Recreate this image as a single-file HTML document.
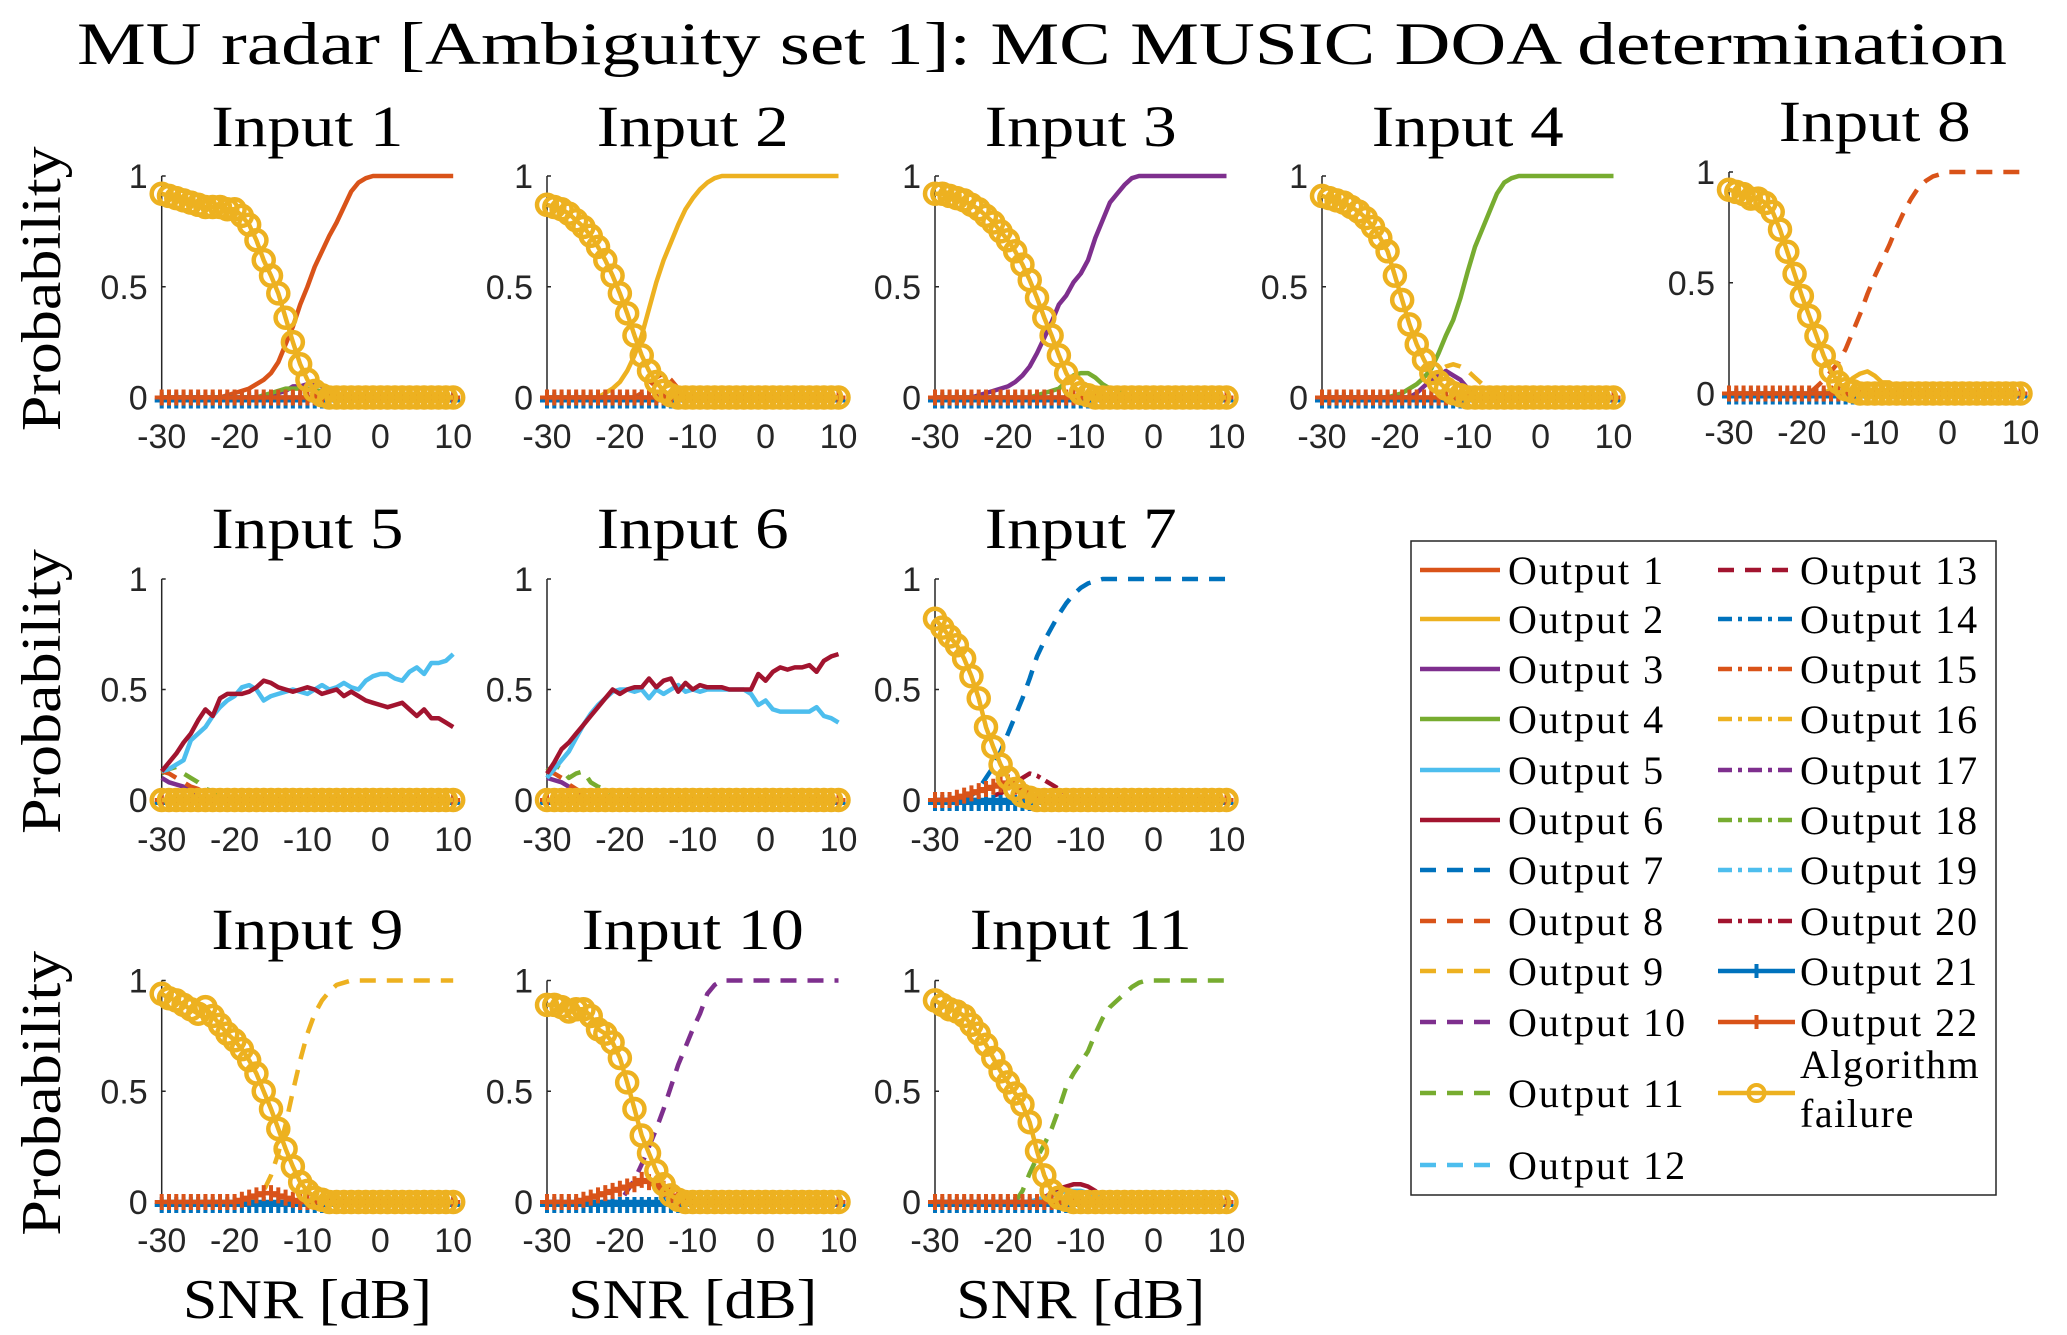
<!DOCTYPE html>
<html><head><meta charset="utf-8"><style>
html,body{margin:0;padding:0;background:#fff;}
svg{display:block;}
.tick{font-family:"Liberation Sans",sans-serif;font-size:34px;fill:#262626;}
.serif{font-family:"Liberation Serif",serif;fill:#000;}
</style></head><body>
<svg id="fig" width="2067" height="1335" viewBox="0 0 2067 1335" xmlns="http://www.w3.org/2000/svg">
<rect width="2067" height="1335" fill="#fff"/>
<text class="serif" x="1042" y="64" font-size="60" text-anchor="middle" textLength="1930" lengthAdjust="spacingAndGlyphs">MU radar [Ambiguity set 1]: MC MUSIC DOA determination</text>
<g id="panels"></g>
<g id="legend"></g>
</svg>
<script>
const snr = [-30,-29,-28,-27,-26,-25,-24,-23,-22,-21,-20,-19,-18,-17,-16,-15,-14,-13,-12,-11,-10,-9,-8,-7,-6,-5,-4,-3,-2,-1,0,1,2,3,4,5,6,7,8,9,10];
const yTicks = [0,0.5,1];
const yTickLabels = ["0","0.5","1"];
const xTicks = [-30,-20,-10,0,10];
const xTickLabels = ["-30","-20","-10","0","10"];
const zeros = [0,0,0,0,0,0,0,0,0,0, 0,0,0,0,0,0,0,0,0,0, 0,0,0,0,0,0,0,0,0,0, 0,0,0,0,0,0,0,0,0,0, 0];

// Input 1
const in1_fail = [.92,.91,.90,.89,.88,.87,.86,.86,.86,.85, .85,.82,.78,.71,.62,.55,.47,.36,.25,.15, .08,.03,.01,0,0,0,0,0,0,0, 0,0,0,0,0,0,0,0,0,0, 0];
const in1_out1 = [0,0,0,0,0,0,0,0,0,.01, .02,.03,.04,.06,.08,.11,.16,.24,.32,.42, .50,.59,.66,.73,.79,.86,.93,.97,.99,1, 1,1,1,1,1,1,1,1,1,1, 1];
const in1_out3 = [0,0,0,0,0,0,0,0,0,0, 0,0,0,0,0,.01,.02,.03,.05,.05, .06,.07,.05,.03,.01,0,0,0,0,0, 0,0,0,0,0,0,0,0,0,0, 0];
const in1_out4 = [0,0,0,0,0,0,0,0,0,0, 0,0,0,0,.01,.02,.03,.04,.04,.04, .04,.03,.03,.02,.01,0,0,0,0,0, 0,0,0,0,0,0,0,0,0,0, 0];
// Input 2
const in2_fail = [.87,.86,.85,.83,.80,.77,.73,.68,.62,.55, .47,.38,.28,.19,.12,.07,.03,.01,0,0, 0,0,0,0,0,0,0,0,0,0, 0,0,0,0,0,0,0,0,0,0, 0];
const in2_out2 = [0,0,0,0,0,0,0,0,.02,.04, .07,.12,.19,.28,.40,.52,.62,.70,.78,.85, .90,.94,.97,.99,1,1,1,1,1,1, 1,1,1,1,1,1,1,1,1,1, 1];
const in2_out8 = [0,0,0,0,0,0,0,0,0,0, 0,0,0,.02,.05,.09,.11,.08,.04,.01, 0,0,0,0,0,0,0,0,0,0, 0,0,0,0,0,0,0,0,0,0, 0];
// Input 3
const in3_fail = [.92,.92,.91,.90,.89,.87,.85,.82,.79,.75, .71,.66,.60,.53,.45,.36,.28,.19,.11,.05, .02,.01,0,0,0,0,0,0,0,0, 0,0,0,0,0,0,0,0,0,0, 0];
const in3_out3 = [0,0,0,0,0,0,.01,.02,.03,.04, .05,.07,.10,.14,.20,.27,.34,.42,.46,.52, .56,.62,.72,.80,.88,.92,.96,.99,1,1, 1,1,1,1,1,1,1,1,1,1, 1];
const in3_out4 = [0,0,0,0,0,0,0,0,0,0, 0,0,0,0,.01,.02,.03,.04,.07,.10, .11,.11,.09,.06,.04,.04,.02,0,0,0, 0,0,0,0,0,0,0,0,0,0, 0];
// Input 4
const in4_fail = [.91,.90,.89,.88,.86,.84,.81,.77,.72,.66, .55,.44,.33,.24,.17,.11,.07,.04,.02,.01, 0,0,0,0,0,0,0,0,0,0, 0,0,0,0,0,0,0,0,0,0, 0];
const in4_out4 = [0,0,0,0,0,0,0,0,0,0, .01,.02,.04,.06,.09,.13,.20,.28,.35,.45, .57,.68,.76,.84,.92,.97,.99,1,1,1, 1,1,1,1,1,1,1,1,1,1, 1];
const in4_out9 = [0,0,0,0,0,0,0,0,0,0, 0,0,0,.02,.05,.08,.12,.14,.15,.14, .12,.09,.06,.04,.02,0,0,0,0,0, 0,0,0,0,0,0,0,0,0,0, 0];
const in4_out3 = [0,0,0,0,0,0,0,0,0,0, 0,0,0,.02,.05,.08,.10,.12,.10,.08, .04,.02,0,0,0,0,0,0,0,0, 0,0,0,0,0,0,0,0,0,0, 0];
// Input 8
const in8_fail = [.92,.91,.90,.88,.88,.86,.82,.74,.64,.54, .44,.35,.26,.17,.10,.05,.02,.01,0,0, 0,0,0,0,0,0,0,0,0,0, 0,0,0,0,0,0,0,0,0,0, 0];
const in8_out8 = [0,0,0,0,0,0,0,0,0,0, 0,0,.03,.06,.10,.14,.20,.28,.36,.45, .53,.60,.67,.75,.82,.88,.93,.96,.98,.99, 1,1,1,1,1,1,1,1,1,1, 1];
const in8_out2 = [0,0,0,0,0,0,0,0,0,0, 0,0,0,0,.02,.03,.04,.07,.09,.10, .08,.05,.05,.03,.01,0,0,0,0,0, 0,0,0,0,0,0,0,0,0,0, 0];
// Input 5
const in5_out5 = [.13,.14,.16,.18,.27,.30,.33,.38,.42,.45, .47,.51,.52,.50,.45,.47,.48,.49,.50,.49, .48,.50,.52,.50,.51,.53,.51,.50,.54,.56, .57,.57,.55,.54,.58,.60,.57,.62,.62,.63, .66];
const in5_out6 = [.13,.17,.21,.26,.30,.36,.41,.38,.46,.48, .48,.48,.49,.51,.54,.53,.51,.50,.49,.50, .51,.50,.48,.49,.50,.47,.49,.47,.45,.44, .43,.42,.43,.44,.41,.38,.41,.37,.37,.35, .33];
const in5_out11 = [.12,.14,.15,.12,.10,.08,.05,.04,.02,.01, 0,0,0,0,0,0,0,0,0,0, 0,0,0,0,0,0,0,0,0,0, 0,0,0,0,0,0,0,0,0,0, 0];
const in5_out3 = [.10,.08,.07,.06,.04,.02,.01,0,0,0, 0,0,0,0,0,0,0,0,0,0, 0,0,0,0,0,0,0,0,0,0, 0,0,0,0,0,0,0,0,0,0, 0];
const in5_out8 = [.13,.12,.10,.08,.06,.05,.03,.01,0,0, 0,0,0,0,0,0,0,0,0,0, 0,0,0,0,0,0,0,0,0,0, 0,0,0,0,0,0,0,0,0,0, 0];
// Input 6
const in6_out5 = [.10,.14,.18,.22,.28,.34,.39,.43,.46,.49, .50,.50,.49,.50,.46,.50,.48,.50,.52,.49, .50,.49,.50,.50,.50,.50,.50,.50,.48,.43, .45,.41,.40,.40,.40,.40,.40,.42,.38,.37, .35];
const in6_out6 = [.12,.17,.23,.26,.30,.34,.38,.42,.46,.50, .48,.50,.51,.51,.55,.51,.54,.55,.49,.53, .50,.52,.51,.51,.51,.50,.50,.50,.50,.57, .54,.58,.60,.59,.60,.60,.61,.58,.63,.65, .66];
const in6_out11 = [.13,.16,.14,.10,.12,.13,.08,.06,.05,.02, 0,0,0,0,0,0,0,0,0,0, 0,0,0,0,0,0,0,0,0,0, 0,0,0,0,0,0,0,0,0,0, 0];
const in6_out8 = [.13,.12,.10,.07,.05,.03,.01,0,0,0, 0,0,0,0,0,0,0,0,0,0, 0,0,0,0,0,0,0,0,0,0, 0,0,0,0,0,0,0,0,0,0, 0];
const in6_out3 = [.10,.09,.08,.06,.04,.02,0,0,0,0, 0,0,0,0,0,0,0,0,0,0, 0,0,0,0,0,0,0,0,0,0, 0,0,0,0,0,0,0,0,0,0, 0];
// Input 7
const in7_fail = [.82,.78,.74,.70,.64,.56,.46,.33,.24,.16, .10,.05,.02,.01,0,0,0,0,0,0, 0,0,0,0,0,0,0,0,0,0, 0,0,0,0,0,0,0,0,0,0, 0];
const in7_out7 = [0,0,0,0,0,.02,.05,.10,.15,.22, .30,.38,.46,.55,.65,.72,.78,.84,.89,.93, .96,.98,.99,1,1,1,1,1,1,1, 1,1,1,1,1,1,1,1,1,1, 1];
const in7_out20 = [0,0,0,0,0,0,0,0,.02,.03, .05,.08,.10,.12,.11,.09,.07,.05,.03,.02, .01,0,0,0,0,0,0,0,0,0, 0,0,0,0,0,0,0,0,0,0, 0];
const in7_out22 = [0,0,0,.01,.02,.03,.04,.05,.06,.07, .08,.06,.04,.02,0,0,0,0,0,0, 0,0,0,0,0,0,0,0,0,0, 0,0,0,0,0,0,0,0,0,0, 0];
// Input 9
const in9_fail = [.94,.92,.91,.89,.87,.85,.88,.84,.80,.76, .73,.69,.64,.58,.50,.42,.33,.24,.16,.09, .05,.02,.01,0,0,0,0,0,0,0, 0,0,0,0,0,0,0,0,0,0, 0];
const in9_out9 = [0,0,0,0,0,0,0,0,0,0, 0,0,0,.02,.05,.12,.22,.35,.50,.64, .76,.85,.91,.95,.98,.99,1,1,1,1, 1,1,1,1,1,1,1,1,1,1, 1];
const in9_out22 = [0,0,0,0,0,0,0,0,0,0, 0,.01,.02,.03,.04,.04,.03,.02,.01,0, 0,0,0,0,0,0,0,0,0,0, 0,0,0,0,0,0,0,0,0,0, 0];
// Input 10
const in10_fail = [.89,.89,.88,.86,.87,.87,.84,.78,.76,.72, .65,.54,.42,.30,.22,.14,.08,.03,.01,0, 0,0,0,0,0,0,0,0,0,0, 0,0,0,0,0,0,0,0,0,0, 0];
const in10_out10 = [0,0,0,0,0,0,0,0,0,0, 0,.05,.10,.17,.25,.33,.42,.52,.62,.70, .78,.85,.94,.98,1,1,1,1,1,1, 1,1,1,1,1,1,1,1,1,1, 1];
const in10_out22 = [0,0,0,0,0,.01,.02,.03,.04,.05, .06,.07,.08,.10,.09,.08,.06,.03,.01,0, 0,0,0,0,0,0,0,0,0,0, 0,0,0,0,0,0,0,0,0,0, 0];
// Input 11
const in11_fail = [.91,.89,.87,.86,.84,.80,.76,.71,.65,.59, .54,.49,.44,.36,.23,.12,.05,.02,.01,0, 0,0,0,0,0,0,0,0,0,0, 0,0,0,0,0,0,0,0,0,0, 0];
const in11_out11 = [0,0,0,0,0,0,0,0,0,0, 0,0,.05,.13,.20,.26,.33,.42,.52,.58, .63,.68,.76,.83,.88,.91,.94,.97,.99,1, 1,1,1,1,1,1,1,1,1,1, 1];
const in11_out6 = [0,0,0,0,0,0,0,0,0,0, 0,0,0,0,.01,.02,.04,.06,.07,.08, .08,.07,.05,.02,0,0,0,0,0,0, 0,0,0,0,0,0,0,0,0,0, 0];
const in11_out5 = [0,0,0,0,0,0,0,0,0,0, 0,0,0,0,.01,.02,.03,.04,.05,.05, .05,.04,.03,.01,0,0,0,0,0,0, 0,0,0,0,0,0,0,0,0,0, 0];

const C = {o1:"#D95319",o2:"#EDB120",o3:"#7E2F8E",o4:"#77AC30",o5:"#4DBEEE",o6:"#A2142F",o7:"#0072BD"};
const DASH = "16,11", DASHDOT = "14,6,4,6";
const NS = "http://www.w3.org/2000/svg";
function mk(tag, attrs, parent){
  const e = document.createElementNS(NS, tag);
  for (const k in attrs) e.setAttribute(k, attrs[k]);
  parent.appendChild(e);
  return e;
}

const W = 291.5;
const panels = [
  {name:"input-1", title:"Input 1", left:161.7, y1:176, y0:397.5, tb:146, xl:448, ylab:true, snrLab:false,
   fail:in1_fail, series:[{d:in1_out1,c:C.o1},{d:in1_out3,c:C.o3},{d:in1_out4,c:C.o4}]},
  {name:"input-2", title:"Input 2", left:547, y1:176, y0:397.5, tb:146, xl:448,
   fail:in2_fail, series:[{d:in2_out2,c:C.o2},{d:in2_out8,c:C.o1,dash:DASH}]},
  {name:"input-3", title:"Input 3", left:935, y1:176, y0:397.5, tb:146, xl:448,
   fail:in3_fail, series:[{d:in3_out3,c:C.o3},{d:in3_out4,c:C.o4}]},
  {name:"input-4", title:"Input 4", left:1322, y1:176, y0:397.5, tb:146, xl:448,
   fail:in4_fail, series:[{d:in4_out4,c:C.o4},{d:in4_out9,c:C.o2,dash:DASH},{d:in4_out3,c:C.o3}]},
  {name:"input-8", title:"Input 8", left:1729, y1:172, y0:393.5, tb:141, xl:444,
   fail:in8_fail, series:[{d:in8_out8,c:C.o1,dash:DASH},{d:in8_out2,c:C.o2}]},
  {name:"input-5", title:"Input 5", left:161.7, y1:579, y0:800, tb:548, xl:851, ylab:true,
   fail:zeros, series:[{d:in5_out11,c:C.o4,dash:DASH},{d:in5_out3,c:C.o3},{d:in5_out8,c:C.o1,dash:DASH},{d:in5_out5,c:C.o5},{d:in5_out6,c:C.o6}]},
  {name:"input-6", title:"Input 6", left:547, y1:579, y0:800, tb:548, xl:851,
   fail:zeros, series:[{d:in6_out11,c:C.o4,dash:DASH},{d:in6_out3,c:C.o3},{d:in6_out8,c:C.o1,dash:DASH},{d:in6_out5,c:C.o5},{d:in6_out6,c:C.o6}]},
  {name:"input-7", title:"Input 7", left:935, y1:579, y0:800, tb:548, xl:851,
   fail:in7_fail, series:[{d:in7_out7,c:C.o7,dash:DASH},{d:in7_out20,c:C.o6,dash:DASHDOT}], p22:in7_out22},
  {name:"input-9", title:"Input 9", left:161.7, y1:980.5, y0:1202, tb:949, xl:1252, ylab:true, snrLab:true,
   fail:in9_fail, series:[{d:in9_out9,c:C.o2,dash:DASH}], p22:in9_out22},
  {name:"input-10", title:"Input 10", left:547, y1:980.5, y0:1202, tb:949, xl:1252, snrLab:true,
   fail:in10_fail, series:[{d:in10_out10,c:C.o3,dash:DASH}], p22:in10_out22},
  {name:"input-11", title:"Input 11", left:935, y1:980.5, y0:1202, tb:949, xl:1252, snrLab:true,
   fail:in11_fail, series:[{d:in11_out11,c:C.o4,dash:DASH},{d:in11_out6,c:C.o6},{d:in11_out5,c:C.o5}]}
];

const root = document.getElementById("panels");
panels.forEach(p => {
  const g = mk("g", {}, root);
  
  
  const xs = v => p.left + (v - snr[0]) / (snr[snr.length-1] - snr[0]) * W;
  const ys = v => p.y0 - v * (p.y0 - p.y1);
  const t = mk("text", {class:"serif", x:p.left + W/2, y:p.tb, "font-size":58, "text-anchor":"middle",
    textLength:(p.title.length > 7 ? 222 : 192), lengthAdjust:"spacingAndGlyphs"}, g);
  t.textContent = p.title;
  
  
  const ax = mk("line", {x1:p.left, x2:p.left, y1:p.y1, y2:p.y0, stroke:"#262626", "stroke-width":1.5}, g);
  
  
  yTicks.forEach((v,i) => {
    mk("line", {x1:p.left, x2:p.left+4, y1:ys(v), y2:ys(v), stroke:"#262626", "stroke-width":1.5}, g);
    const tl = mk("text", {class:"tick", x:p.left-14, y:ys(v)+12, "text-anchor":"end"}, g);
    tl.textContent = yTickLabels[i];
    
    
  });
  xTicks.forEach((v,i) => {
    const tl = mk("text", {class:"tick", x:xs(v), y:p.xl, "text-anchor":"middle"}, g);
    tl.textContent = xTickLabels[i];
    
    
  });
  const ptsOf = d => d.map((v,i) => xs(snr[i]).toFixed(1) + "," + ys(v).toFixed(1)).join(" ");
  p.series.forEach(s => {
    const a = {points:ptsOf(s.d), fill:"none", stroke:s.c, "stroke-width":4.5, "stroke-linejoin":"round"};
    if (s.dash) a["stroke-dasharray"] = s.dash;
    const pl = mk("polyline", a, g);
    
    
  });
  [[zeros, C.o7, 3], [p.p22 || zeros, C.o1, 0]].forEach(([d, col, off]) => {
    const pl = mk("polyline", {points:ptsOf(d), fill:"none", stroke:col, "stroke-width":4.5}, g);
    
    
    d.forEach((v,i) => {
      const x = xs(snr[i]), y = ys(v) + off;
      mk("path", {d:`M${x-7},${y}H${x+7}M${x},${y-8}V${y+8}`, stroke:col, "stroke-width":4}, g);
    });
  });
  const fl = mk("polyline", {points:ptsOf(p.fail), fill:"none", stroke:C.o2, "stroke-width":4.5}, g);
  
  
  p.fail.forEach((v,i) => {
    const c = mk("circle", {cx:xs(snr[i]), cy:ys(v), r:10, fill:"none", stroke:C.o2, "stroke-width":4.5}, g);
    
    
  });
  if (p.ylab) {
    const cy = (p.y0 + p.y1)/2;
    const yl = mk("text", {class:"serif", x:0, y:0, "font-size":56, "text-anchor":"middle",
      transform:`translate(60,${cy+2}) rotate(-90)`, textLength:285, lengthAdjust:"spacingAndGlyphs"}, g);
    yl.textContent = "Probability";
    
    
  }
  if (p.snrLab) {
    const xl = mk("text", {class:"serif", x:p.left + W/2, y:1318, "font-size":56, "text-anchor":"middle",
      textLength:249, lengthAdjust:"spacingAndGlyphs"}, g);
    xl.textContent = "SNR [dB]";
    
    
  }
});

// Legend
const lg = document.getElementById("legend");
mk("rect", {x:1411, y:541, width:585, height:654, fill:"#fff", stroke:"#262626", "stroke-width":1.5}, lg);
const legNames = ["Output 1","Output 2","Output 3","Output 4","Output 5","Output 6","Output 7","Output 8","Output 9","Output 10","Output 11","Output 12",
  "Output 13","Output 14","Output 15","Output 16","Output 17","Output 18","Output 19","Output 20","Output 21","Output 22","Algorithm failure"];
const legColors = [C.o1,C.o2,C.o3,C.o4,C.o5,C.o6,C.o7,C.o1,C.o2,C.o3,C.o4,C.o5,C.o6,C.o7,C.o1,C.o2,C.o3,C.o4,C.o5,C.o6,C.o7,C.o1,C.o2];
const rowY = [570,619,669,719,770,820,870,921,971,1022,1093,1165];
legNames.forEach((nm, i) => {
  const col = i < 12 ? 0 : 1;
  const r = col === 0 ? i : i - 12;
  const y = rowY[r];
  const x0 = col === 0 ? 1420 : 1718, x1 = col === 0 ? 1500 : 1795, tx = col === 0 ? 1508 : 1800;
  const e = mk("g", {}, lg);
  
  
  const a = {x1:x0, x2:x1, y1:y, y2:y, stroke:legColors[i], "stroke-width":4.5};
  if (i >= 6 && i <= 12) a["stroke-dasharray"] = DASH;
  if (i >= 13 && i <= 19) a["stroke-dasharray"] = DASHDOT;
  mk("line", a, e);
  const mx = (x0 + x1)/2;
  if (i === 20 || i === 21) mk("path", {d:`M${mx},${y-7}V${y+7}`, stroke:legColors[i], "stroke-width":4}, e);
  if (i === 22) mk("circle", {cx:mx, cy:y, r:8, fill:"none", stroke:legColors[i], "stroke-width":4}, e);
  if (i === 22) {
    const t1 = mk("text", {class:"serif", x:tx, y:1078, "font-size":40, "letter-spacing":"1.5"}, e);
    t1.textContent = "Algorithm";
    const t2 = mk("text", {class:"serif", x:tx, y:1127, "font-size":40, "letter-spacing":"1.5"}, e);
    t2.textContent = "failure";
  } else {
    const t = mk("text", {class:"serif", x:tx, y:y+14, "font-size":40, "letter-spacing":"2"}, e);
    t.textContent = nm;
  }
});
</script>
</body></html>
